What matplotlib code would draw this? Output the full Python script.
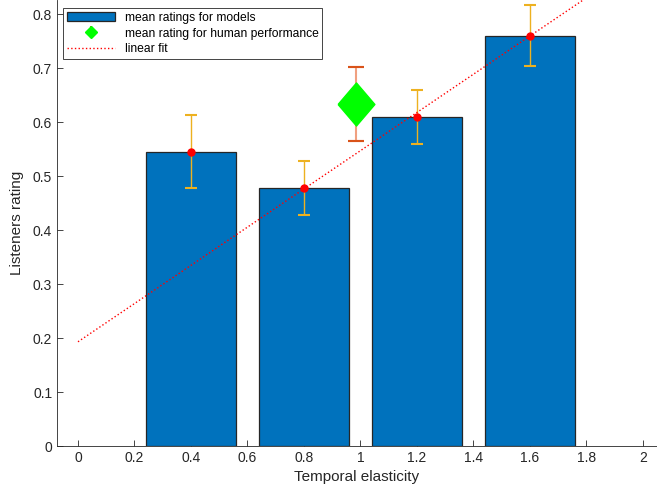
import matplotlib.pyplot as plt

plt.rcParams["font.family"] = ["Liberation Sans", "DejaVu Sans"]

# model ratings
elasticity = [0.4, 0.8, 1.2, 1.6]
ratings = [0.545, 0.478, 0.61, 0.76]
rating_err = [0.068, 0.05, 0.05, 0.057]

# human performance
human_x = 0.985
human_rating = 0.633
human_err = 0.068

# linear fit coefficients
fit_slope = 0.354
fit_intercept = 0.193
fit_x = [0.0, 2.0]

fig = plt.figure(figsize=(6.57, 4.88), dpi=100)
ax = fig.add_axes([57 / 657, 42 / 488, 600 / 657, 446 / 488])

ax.bar(elasticity, ratings, width=0.32, color="#0072BD", edgecolor="#262626",
       linewidth=0.9, label="mean ratings for models", zorder=2)
ax.errorbar(elasticity, ratings, yerr=rating_err, fmt="none", ecolor="#EDB120",
            elinewidth=1.0, capsize=4, capthick=1.5, zorder=3)
ax.plot(elasticity, ratings, "o", color="red", markersize=5, zorder=4)

diamond = [(-1, 0), (0, 1.17), (1, 0), (0, -1.17), (-1, 0)]
ax.errorbar([human_x], [human_rating], yerr=[human_err], fmt="none",
            ecolor="#F0A080", elinewidth=1.5, capsize=6, capthick=1.5, zorder=3)
ax.errorbar([human_x], [human_rating], yerr=[human_err], fmt="none",
            ecolor="#D95319", elinewidth=0, capsize=6, capthick=1.5, zorder=3)
ax.plot([human_x], [human_rating], marker=diamond, color="#00FF00",
        markersize=31, linestyle="none", zorder=4)
# legend proxy for human performance
h_human = ax.errorbar([], [], yerr=[], fmt="D", color="#00FF00", ecolor="#D95319",
                      markersize=6, capsize=2)

fit_y = [fit_intercept + fit_slope * x for x in fit_x]
ax.plot(fit_x, fit_y, ":", color="red", linewidth=1.0, label="linear fit", zorder=5)

ax.set_xlim(-0.0743, 2.0496)
ax.set_ylim(0, 0.826)
ax.set_xticks([0, 0.2, 0.4, 0.6, 0.8, 1, 1.2, 1.4, 1.6, 1.8, 2])
ax.set_xticklabels(["0", "0.2", "0.4", "0.6", "0.8", "1", "1.2", "1.4", "1.6", "1.8", "2"])
ax.set_yticks([0, 0.1, 0.2, 0.3, 0.4, 0.5, 0.6, 0.7, 0.8])
ax.set_yticklabels(["0", "0.1", "0.2", "0.3", "0.4", "0.5", "0.6", "0.7", "0.8"])
ax.tick_params(direction="in", length=4, labelsize=10, colors="#262626", width=0.6)
ax.spines["top"].set_visible(False)
ax.spines["right"].set_visible(False)
for s in ["left", "bottom"]:
    ax.spines[s].set_color("#262626")
    ax.spines[s].set_linewidth(0.6)

ax.set_xlabel("Temporal elasticity", fontsize=11, color="#262626", labelpad=4)
ax.set_ylabel("Listeners rating", fontsize=11, color="#262626", labelpad=6)

handles, labels = ax.get_legend_handles_labels()
bar_h = [h for h, l in zip(handles, labels) if l == "mean ratings for models"][0]
fit_h = [h for h, l in zip(handles, labels) if l == "linear fit"][0]
leg = ax.legend([bar_h, h_human, fit_h],
                ["mean ratings for models", "mean rating for human performance", "linear fit"],
                loc="upper left", bbox_to_anchor=(0.0, 0.995), fontsize=8.7,
                fancybox=False, framealpha=1, edgecolor="#262626",
                handlelength=4, borderpad=0.3, labelspacing=0.3)
leg.get_frame().set_linewidth(0.6)

fig.savefig("out.png")
